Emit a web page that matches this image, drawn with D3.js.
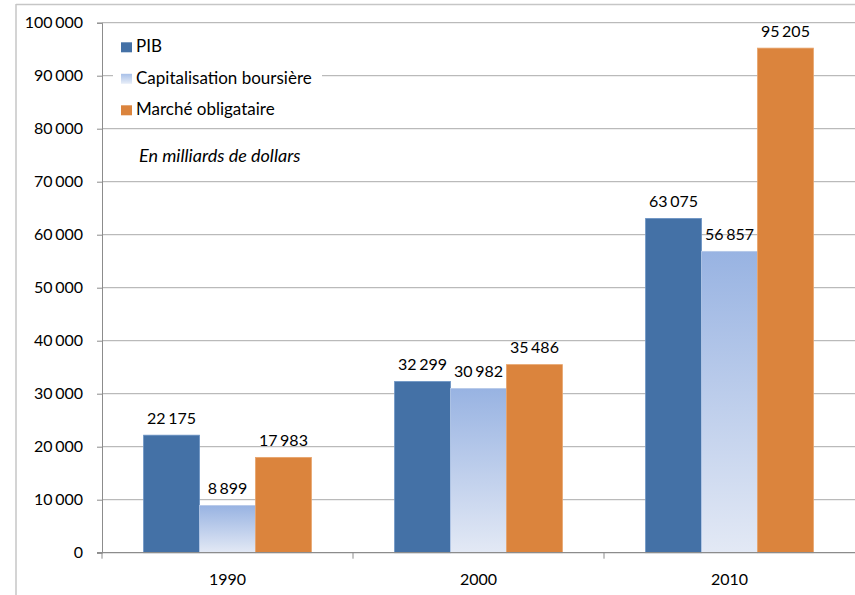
<!DOCTYPE html>
<html>
<head>
<meta charset="utf-8">
<script src="https://cdn.jsdelivr.net/npm/d3@7"></script>
<style>
  html, body { margin: 0; padding: 0; background: #fff; }
  svg { display: block; font-family: Lato, "Open Sans", sans-serif; }
</style>
</head>
<body>
<svg id="chart" width="855" height="595"></svg>
<script>
// Chart data
const years = ["1990", "2000", "2010"];
const seriesNames = ["PIB", "Capitalisation boursière", "Marché obligataire"];
const pib = [22175, 32299, 63075];
const capitalisation = [8899, 30982, 56857];
const obligataire = [17983, 35486, 95205];
const yTicks = [0, 10000, 20000, 30000, 40000, 50000, 60000, 70000, 80000, 90000, 100000];
const noteText = "En milliards de dollars";

const seriesValues = [pib, capitalisation, obligataire];
const fills = ["#4471A6", "url(#capGrad)", "#DB843D"];
const strokes = ["#6B93C4", "#B5C8E8", "#E8A46C"];
const swatchFills = ["#4471A6", "url(#capGradLegend)", "#DB843D"];

const svg = d3.select("#chart");

// Gradients for the market capitalisation bars
const defs = svg.append("defs");
const g1 = defs.append("linearGradient").attr("id", "capGrad")
  .attr("x1", 0).attr("y1", 0).attr("x2", 0).attr("y2", 1);
g1.append("stop").attr("offset", "0%").attr("stop-color", "#98B3E2");
g1.append("stop").attr("offset", "100%").attr("stop-color", "#E3E9F5");
const g2 = defs.append("linearGradient").attr("id", "capGradLegend")
  .attr("x1", 0).attr("y1", 0).attr("x2", 0).attr("y2", 1);
g2.append("stop").attr("offset", "0%").attr("stop-color", "#A8C0E8");
g2.append("stop").attr("offset", "100%").attr("stop-color", "#E8EEF8");

// Chart area border (top and left edges visible)
svg.append("line").attr("x1", 16).attr("x2", 855).attr("y1", 4.5).attr("y2", 4.5)
  .attr("stroke", "#C6C6C6").attr("stroke-width", 1.5);
svg.append("line").attr("x1", 16).attr("x2", 16).attr("y1", 4).attr("y2", 595)
  .attr("stroke", "#C6C6C6").attr("stroke-width", 1.5);

const plotLeft = 102, plotRight = 855, plotTop = 22.7, plotBottom = 552.7;

const y = d3.scaleLinear().domain([0, 100000]).range([plotBottom, plotTop]);
const x0 = d3.scaleBand().domain(years).range([plotLeft, plotLeft + 3 * 251]).padding(0);
const groupPad = 41.6;
const x1 = d3.scaleBand().domain(seriesNames)
  .range([groupPad, x0.bandwidth() - groupPad]).padding(0);

const fmt = d3.formatLocale({ decimal: ",", thousands: " ", grouping: [3], currency: ["", " €"] }).format(",d");

// Horizontal gridlines
svg.append("g").selectAll("line").data(yTicks.filter(d => d > 0)).join("line")
  .attr("x1", plotLeft).attr("x2", plotRight)
  .attr("y1", d => y(d)).attr("y2", d => y(d))
  .attr("stroke", "#ABABAB").attr("stroke-width", 1);

// Y axis
const yAxis = svg.append("g").attr("transform", `translate(${plotLeft},0)`)
  .call(d3.axisLeft(y).tickValues(yTicks).tickFormat(fmt).tickSize(5).tickPadding(14));
yAxis.select(".domain").attr("stroke", "#8C8C8C");
yAxis.selectAll(".tick line").attr("stroke", "#8C8C8C");
yAxis.selectAll("text").attr("font-size", "16px").attr("fill", "#000")
  .attr("word-spacing", "-1.5px")
  .attr("font-family", "Lato, 'Open Sans', sans-serif");

// Legend (white box hides the gridlines behind it)
svg.append("rect").attr("x", 113).attr("y", 30).attr("width", 209).attr("height", 94).attr("fill", "#fff");
const legend = svg.append("g");
seriesNames.forEach((name, i) => {
  const base = 52.3 + i * 31.5;
  legend.append("rect").attr("x", 121).attr("y", base - 10).attr("width", 11).attr("height", 10)
    .attr("fill", swatchFills[i]);
  legend.append("text").attr("x", 136).attr("y", base).attr("font-size", "17px")
    .attr("fill", "#000").text(name);
});

// Unit note
svg.append("text").attr("x", 139).attr("y", 162).attr("font-size", "18px")
  .attr("font-style", "italic").attr("fill", "#000").text(noteText);

// Bars
const groups = svg.append("g").selectAll("g").data(years).join("g")
  .attr("transform", d => `translate(${x0(d)},0)`);

groups.selectAll("rect").data((d, i) => seriesNames.map((s, j) => ({ s, j, v: seriesValues[j][i] })))
  .join("rect")
  .attr("x", d => x1(d.s))
  .attr("width", x1.bandwidth())
  .attr("y", d => y(d.v))
  .attr("height", d => y(0) - y(d.v))
  .attr("fill", d => fills[d.j])
  .attr("stroke", d => strokes[d.j])
  .attr("stroke-width", 0.8);

// Value labels
groups.selectAll("text.val").data((d, i) => seriesNames.map((s, j) => ({ s, j, v: seriesValues[j][i] })))
  .join("text").attr("class", "val")
  .attr("x", d => x1(d.s) + x1.bandwidth() / 2)
  .attr("y", d => y(d.v) - 11.5)
  .attr("text-anchor", "middle").attr("font-size", "16px").attr("fill", "#000")
  .attr("word-spacing", "-1.5px")
  .text(d => fmt(d.v));

// X axis line and category boundary ticks
svg.append("line").attr("x1", plotLeft - 5).attr("x2", plotRight)
  .attr("y1", plotBottom).attr("y2", plotBottom)
  .attr("stroke", "#8C8C8C").attr("stroke-width", 1.2);
svg.append("g").selectAll("line").data(years).join("line")
  .attr("x1", d => x0(d)).attr("x2", d => x0(d))
  .attr("y1", plotBottom).attr("y2", plotBottom + 6)
  .attr("stroke", "#8C8C8C");

svg.append("g").selectAll("text").data(years).join("text")
  .attr("x", d => x0(d) + x0.bandwidth() / 2)
  .attr("y", 585)
  .attr("text-anchor", "middle").attr("font-size", "16px").attr("fill", "#000")
  .text(d => d);
</script>
</body>
</html>
